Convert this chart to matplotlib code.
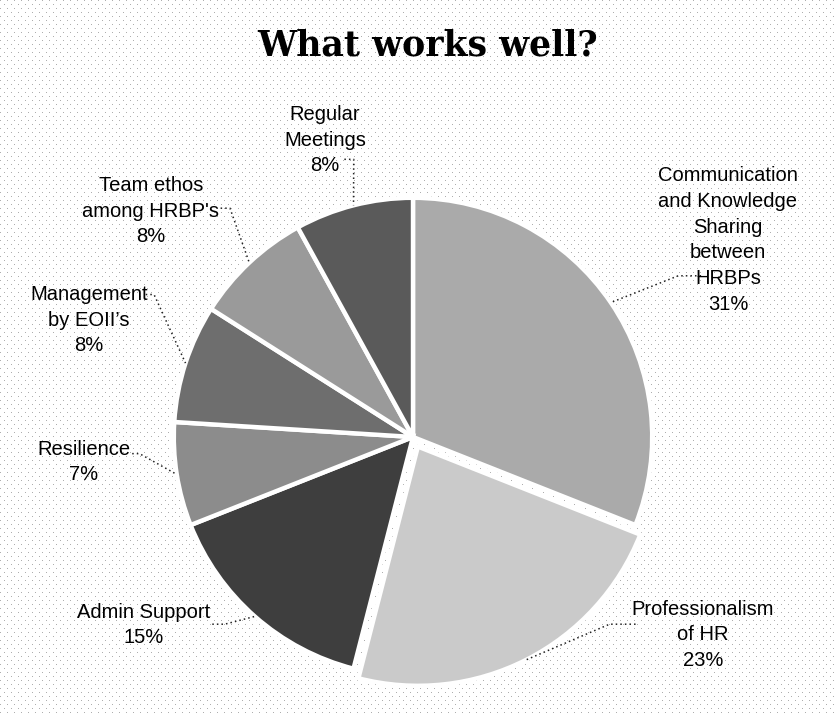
import numpy as np
import matplotlib
matplotlib.use("Agg")
import matplotlib.pyplot as plt

# ---- data -------------------------------------------------------------
categories = [
    "Communication\nand Knowledge\nSharing\nbetween\nHRBPs",
    "Professionalism\nof HR",
    "Admin Support",
    "Resilience",
    "Management\nby EOII\u2019s",
    "Team ethos\namong HRBP's",
    "Regular\nMeetings",
]
shares = [31, 23, 15, 7, 8, 8, 8]
pct_labels = ["31%", "23%", "15%", "7%", "8%", "8%", "8%"]
title = "What works well?"

# ---- styling ----------------------------------------------------------
W, H = 835, 713
grays = ["#aaaaaa", "#cacaca", "#3e3e3e", "#8c8c8c", "#6e6e6e", "#9a9a9a", "#5a5a5a"]
explode = [0, 0.045, 0, 0, 0, 0, 0]

# pie centre / radius in pixels (from top-left)
CX, CY, R = 413, 437, 230
LIM = 1.3

# label block centres (pixels) and leader-line anchor / elbow (pixels)
label_pos = [(728, 240), (703, 635), (144, 625), (84, 462), (89, 320), (151, 211), (325, 140)]
leader_start = [(690, 282), (627, 617), (220, 617), (143, 453), (156, 300), (228, 217), (347, 170)]
leader_elbow = [(668, 282), (602, 617), (232, 617), (150, 453), (164, 300), (237, 217), (356, 170)]

fig = plt.figure(figsize=(W / 100, H / 100), dpi=100)
fig.patch.set_facecolor("white")

# light dotted backdrop
bg = np.ones((H, W))
bg[0::8, 0::7] = 0.68
bg[4::8, 4::7] = 0.68
fig.figimage(bg, cmap="gray", vmin=0, vmax=1, zorder=0)

size_px = 2 * LIM * R
ax = fig.add_axes([(CX - LIM * R) / W, (H - CY - LIM * R) / H, size_px / W, size_px / H])
ax.set_zorder(2)
ax.set_xlim(-LIM, LIM)
ax.set_ylim(-LIM, LIM)
ax.axis("off")

wedges, _ = ax.pie(
    shares,
    colors=grays,
    startangle=90,
    counterclock=False,
    explode=explode,
    radius=1.0,
    wedgeprops=dict(edgecolor="white", linewidth=3.2),
)


def px2data(px, py):
    return (px - CX) / R, (CY - py) / R


font = ["Liberation Sans", "DejaVu Sans"]
for i, w in enumerate(wedges):
    lx, ly = label_pos[i]
    fig.text(lx / W, 1 - ly / H, categories[i] + "\n" + pct_labels[i],
             ha="center", va="center", fontsize=14.5, family=font,
             linespacing=1.45, color="black", zorder=5)
    mid = np.deg2rad((w.theta1 + w.theta2) / 2)
    cx, cy = w.center
    ex, ey = cx + w.r * np.cos(mid), cy + w.r * np.sin(mid)
    sx, sy = px2data(*leader_start[i])
    bx, by = px2data(*leader_elbow[i])
    ax.plot([sx, bx, ex], [sy, by, ey], color="#222222", lw=1.1,
            linestyle=(0, (1, 2)), zorder=4, clip_on=False)

fig.text(428 / W, 1 - 45 / H, title, ha="center", va="center",
         fontsize=25, fontweight="bold", family=["DejaVu Serif"], zorder=5)

fig.savefig("out.png", dpi=100)
